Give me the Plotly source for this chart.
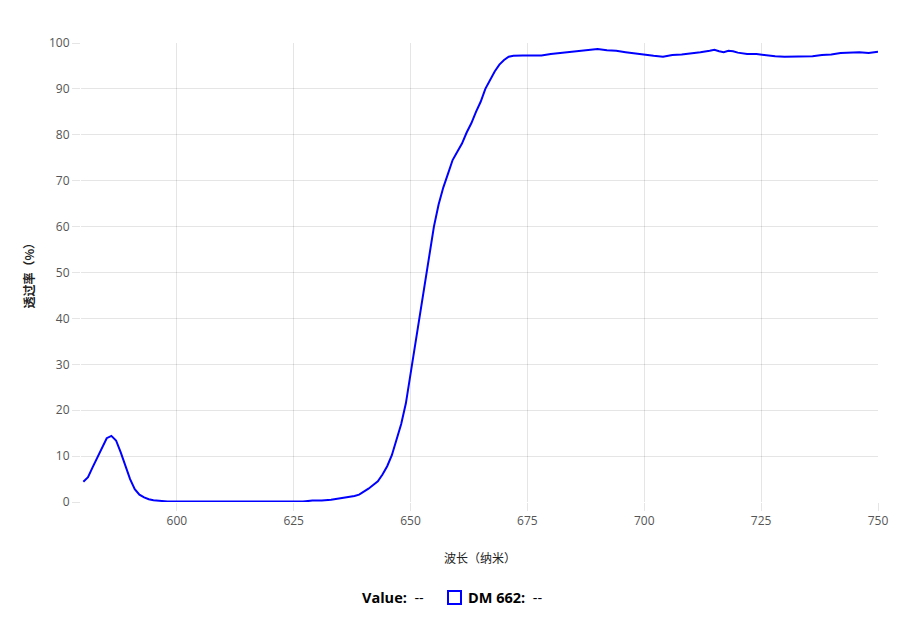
import plotly.graph_objects as go

wavelength = [580, 581, 582, 583, 584, 585, 586, 587, 588, 589, 590, 591, 592, 593, 594, 595, 596, 597, 598,
              600, 603, 606, 609, 612, 615, 618, 621, 624, 627, 629, 631, 633, 635, 636, 637, 638, 639, 640,
              641, 642, 643, 644, 645, 646, 647, 648, 649, 650, 651, 652, 653, 654, 655, 656, 657, 658, 659,
              660, 661, 662, 663, 664, 665, 666, 667, 668, 669, 670, 671, 672, 674, 676, 678, 680, 682, 684,
              686, 688, 690, 692, 694, 696, 698, 700, 702, 704, 706, 708, 710, 712, 714, 715, 716, 717, 718,
              719, 720, 722, 724, 726, 728, 730, 732, 734, 736, 738, 740, 742, 744, 746, 748, 749, 750]
transmission = [4.4, 5.4, 7.6, 9.8, 12.0, 13.9, 14.4, 13.4, 10.8, 7.9, 5.0, 2.8, 1.6, 1.0, 0.6, 0.4, 0.25, 0.15, 0.1,
                0.1, 0.1, 0.1, 0.05, 0.0, 0.0, 0.1, 0.1, 0.1, 0.1, 0.3, 0.3, 0.5, 0.8, 1.0, 1.0, 1.3, 1.6, 2.2,
                2.9, 3.7, 4.5, 6.0, 7.8, 10.2, 13.8, 17.0, 21.5, 28.0, 34.0, 40.5, 48.0, 54.5, 60.0, 64.8, 68.5, 71.5, 74.5,
                76.3, 78.1, 80.5, 82.5, 85.0, 87.2, 90.0, 92.0, 93.8, 95.3, 96.3, 97.0, 97.2, 97.3, 97.3, 97.3, 97.6, 97.8, 98.0,
                98.2, 98.5, 98.7, 98.4, 98.3, 98.0, 97.7, 97.4, 97.2, 97.0, 97.4, 97.5, 97.7, 98.0, 98.3, 98.5, 98.2, 98.0, 98.3,
                98.2, 97.9, 97.6, 97.6, 97.3, 97.1, 97.0, 97.0, 97.0, 97.1, 97.4, 97.5, 97.8, 97.9, 98.0, 97.8, 98.0, 98.1]
series_name = "DM 662"
x_title = "波长（纳米）"
y_title = "透过率（%）"
x_ticks = [600, 625, 650, 675, 700, 725, 750]
y_ticks = [0, 10, 20, 30, 40, 50, 60, 70, 80, 90, 100]

FONT = "Open Sans, Noto Sans CJK SC"
CJK = "Noto Sans CJK SC"
GRID = "rgba(0,0,0,0.1)"

fig = go.Figure()
fig.add_trace(go.Scatter(x=wavelength, y=transmission, mode="lines", name=series_name,
                         line=dict(color="#0000ff", width=2), hoverinfo="skip"))

# page body has an 8px default margin, so the figure is offset by 8px
fig.update_layout(
    width=902, height=625,
    margin=dict(l=73, r=32, t=35, b=131),
    plot_bgcolor="white", paper_bgcolor="white",
    showlegend=False,
    font=dict(family=FONT, size=12, color="#666"),
)
fig.update_xaxes(range=[579.5, 750], tickvals=x_ticks, showgrid=True, gridcolor=GRID, gridwidth=1,
                 zeroline=False, showline=False, ticks="outside", ticklen=8, tickcolor=GRID,
                 tickfont=dict(family=FONT, size=12, color="#555"))
fig.update_yaxes(range=[0, 100], tickvals=y_ticks, showgrid=True, gridcolor=GRID, gridwidth=1,
                 zeroline=False, showline=False, ticks="outside", ticklen=8, tickcolor=GRID,
                 tickfont=dict(family=FONT, size=12, color="#555"))

def px(x):
    return (x - 81) / 797.0

def py(y):
    return (502 - y) / 459.0

fig.add_annotation(text=x_title, xref="paper", yref="paper", x=0.5, y=py(557), showarrow=False,
                   xanchor="center", yanchor="middle", font=dict(family=CJK, size=12, color="#222"))
fig.add_annotation(text="<b>" + y_title + "</b>", xref="paper", yref="paper", x=px(28), y=0.5, showarrow=False,
                   textangle=-90, xanchor="center", yanchor="middle", font=dict(family=CJK, size=12, color="#222"))

fig.add_annotation(text="<b>Value:</b>  --", xref="paper", yref="paper", x=px(360), y=py(597), showarrow=False,
                   xanchor="left", yanchor="middle", font=dict(family=FONT, size=14.5, color="#000"))
fig.add_shape(type="rect", xref="paper", yref="paper", x0=px(448), x1=px(461), y0=py(604), y1=py(591),
              line=dict(color="#0000ff", width=2), fillcolor="rgba(0,0,0,0)")
fig.add_annotation(text="<b>" + series_name + ":</b>  --", xref="paper", yref="paper", x=px(466), y=py(597),
                   showarrow=False, xanchor="left", yanchor="middle", font=dict(family=FONT, size=14.5, color="#000"))

fig.write_html("out.html")
